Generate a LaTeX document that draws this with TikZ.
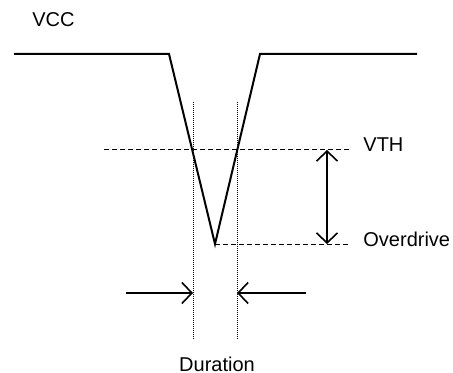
\documentclass[tikz,border=0pt]{standalone}
\usepackage{fontspec}
\setmainfont{Liberation Sans}
\usetikzlibrary{arrows.meta}

\begin{document}
\begin{tikzpicture}[x=0.5pt, y=-0.5pt,
		>={Straight Barb[length=5pt,width=10.5pt]},
		signal/.style={line width=1pt, line join=miter},
		level/.style={line width=0.5pt, dash pattern=on 2.5pt off 1.5pt},
		marker/.style={line width=0.4pt, dash pattern=on 0.5pt off 0.5pt},
		measure/.style={line width=0.8pt},
		every node/.style={font=\fontsize{10}{12}\selectfont, inner sep=0pt, anchor=base west}]
		\useasboundingbox (0, 0) rectangle (453, 373);

		% waveform
		\coordinate (L) at (14, 54);
		\coordinate (A) at (169, 54);
		\coordinate (B) at (215, 244);
		\coordinate (C) at (260, 54);
		\coordinate (R) at (417, 54);
		\draw[signal] (L) -- (A) -- (B) -- (C) -- (R);

		\node (vcc) at (32, 27) {VCC};
		\node (vth) at (363, 152) {VTH};
		\node (od) at (363, 246) {Overdrive};
		\node[anchor=base] (dur) at (217, 371) {Duration};

		\draw[level] (104, 150) -- (351, 150);
		\draw[level] (B) -- (349, 244);
		\draw[marker] (193, 102) -- (193, 340);
		\draw[marker] (237, 102) -- (237, 340);

		\draw[measure, <->] (327, 150) -- (327, 244);
		\draw[measure, ->] (126, 293) -- (193, 293);
		\draw[measure, ->] (306, 293) -- (237, 293);
	\end{tikzpicture}
\end{document}
